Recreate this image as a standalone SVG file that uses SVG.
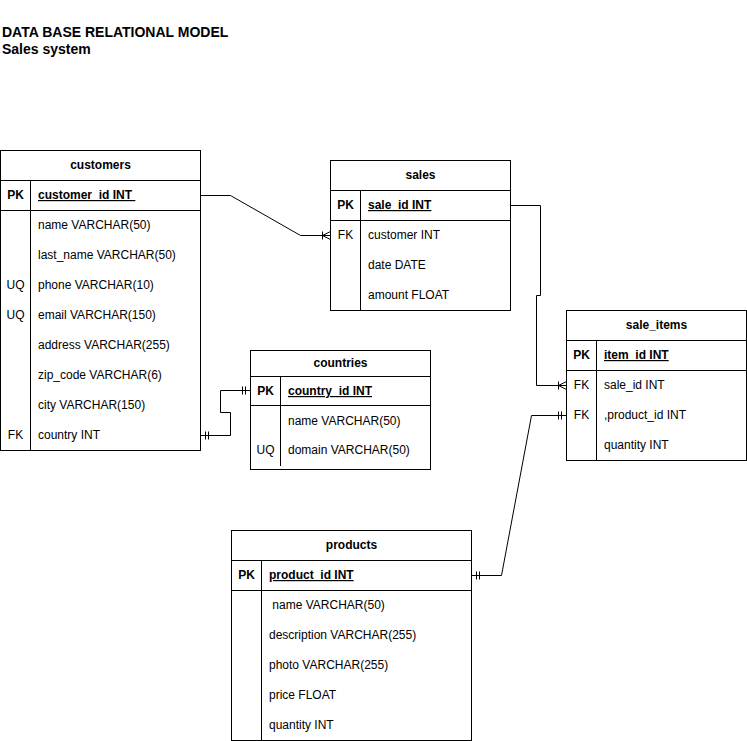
<svg xmlns="http://www.w3.org/2000/svg" width="747" height="741" viewBox="0 0 747 741">
<style>
text{font-family:"Liberation Sans",Arial,Helvetica,sans-serif;font-size:12px;fill:#000}
.t{font-size:14px;font-weight:bold}
.h{font-weight:bold;text-anchor:middle}
.k{text-anchor:middle}
.kb{text-anchor:middle;font-weight:bold}
.pk{font-weight:bold;text-decoration:underline}
.box{fill:#fff;stroke:#000;stroke-width:1}
.ln{fill:none;stroke:#000;stroke-width:1}
.cn{fill:none;stroke:#000;stroke-width:1}
</style>
<defs>
<marker id="one" markerUnits="userSpaceOnUse" markerWidth="12" markerHeight="12" viewBox="-10 -6 12 12" refX="0" refY="0" orient="auto-start-reverse" overflow="visible">
<path d="M-5,-4V4M-8,-4V4" fill="none" stroke="#000" stroke-width="1"/>
</marker>
<marker id="many" markerUnits="userSpaceOnUse" markerWidth="12" markerHeight="12" viewBox="-10 -6 12 12" refX="0" refY="0" orient="auto-start-reverse" overflow="visible">
<path d="M-8,-4V4M-8,0L0,-4M-8,0L0,4" fill="none" stroke="#000" stroke-width="1"/>
</marker>
</defs>
<rect width="747" height="741" fill="#fff"/>
<g id="title">
<text class="t" x="2" y="37">DATA BASE RELATIONAL MODEL</text>
<text class="t" x="2" y="54">Sales system</text>
</g>
<g id="connectors">
<path class="cn" d="M200.5,195.5H230.5L300.5,235.5H330.5" marker-end="url(#many)"/>
<path class="cn" d="M200.5,435.5H230.5V412.5H220.5V390.5H250.5" marker-start="url(#one)" marker-end="url(#one)"/>
<path class="cn" d="M510.5,205.5H540.5V295.5H536.5V385.5H566.5" marker-end="url(#many)"/>
<path class="cn" d="M471.5,575.5H501.5L531.5,415.5H566.5" marker-start="url(#one)" marker-end="url(#one)"/>
</g>
<g id="customers">
<rect class="box" x="0.5" y="150.5" width="200" height="300"/>
<path class="ln" d="M0.5,180.5H200.5M0.5,210.5H200.5M30.5,180.5V450.5"/>
<text class="h" x="100.5" y="169">customers</text>
<text class="kb" x="15.5" y="199">PK</text>
<text class="pk" x="38" y="199" xml:space="preserve">customer_id INT </text>
<text x="38" y="229">name VARCHAR(50)</text>
<text x="38" y="259">last_name VARCHAR(50)</text>
<text class="k" x="15.5" y="289">UQ</text>
<text x="38" y="289">phone VARCHAR(10)</text>
<text class="k" x="15.5" y="319">UQ</text>
<text x="38" y="319">email VARCHAR(150)</text>
<text x="38" y="349">address VARCHAR(255)</text>
<text x="38" y="379">zip_code VARCHAR(6)</text>
<text x="38" y="409">city VARCHAR(150)</text>
<text class="k" x="15.5" y="439">FK</text>
<text x="38" y="439">country INT</text>
</g>
<g id="sales">
<rect class="box" x="330.5" y="160.5" width="180" height="150"/>
<path class="ln" d="M330.5,190.5H510.5M330.5,220.5H510.5M360.5,190.5V310.5"/>
<text class="h" x="420.5" y="179">sales</text>
<text class="kb" x="345.5" y="209">PK</text>
<text class="pk" x="368" y="209">sale_id INT</text>
<text class="k" x="345.5" y="239">FK</text>
<text x="368" y="239">customer INT</text>
<text x="368" y="269">date DATE</text>
<text x="368" y="299">amount FLOAT</text>
</g>
<g id="countries">
<rect class="box" x="250.5" y="350.5" width="180" height="119"/>
<path class="ln" d="M250.5,376.5H430.5M250.5,405.5H430.5M280.5,376.5V466"/>
<text class="h" x="340.5" y="367">countries</text>
<text class="kb" x="265.5" y="395">PK</text>
<text class="pk" x="288" y="395">country_id INT</text>
<text x="288" y="425">name VARCHAR(50)</text>
<text class="k" x="265.5" y="454">UQ</text>
<text x="288" y="454">domain VARCHAR(50)</text>
</g>
<g id="sale_items">
<rect class="box" x="566.5" y="310.5" width="180" height="150"/>
<path class="ln" d="M566.5,340.5H746.5M566.5,370.5H746.5M596.5,340.5V460.5"/>
<text class="h" x="656.5" y="329">sale_items</text>
<text class="kb" x="581.5" y="359">PK</text>
<text class="pk" x="604" y="359">item_id INT</text>
<text class="k" x="581.5" y="389">FK</text>
<text x="604" y="389">sale_id INT</text>
<text class="k" x="581.5" y="419">FK</text>
<text x="604" y="419">,product_id INT</text>
<text x="604" y="449">quantity INT</text>
</g>
<g id="products">
<rect class="box" x="231.5" y="530.5" width="240" height="210"/>
<path class="ln" d="M231.5,560.5H471.5M231.5,590.5H471.5M261.5,560.5V740.5"/>
<text class="h" x="351.5" y="549">products</text>
<text class="kb" x="246.5" y="579">PK</text>
<text class="pk" x="269" y="579">product_id INT</text>
<text x="269" y="609" xml:space="preserve"> name VARCHAR(50)</text>
<text x="269" y="639">description VARCHAR(255)</text>
<text x="269" y="669">photo VARCHAR(255)</text>
<text x="269" y="699">price FLOAT</text>
<text x="269" y="729">quantity INT</text>
</g>
</svg>
